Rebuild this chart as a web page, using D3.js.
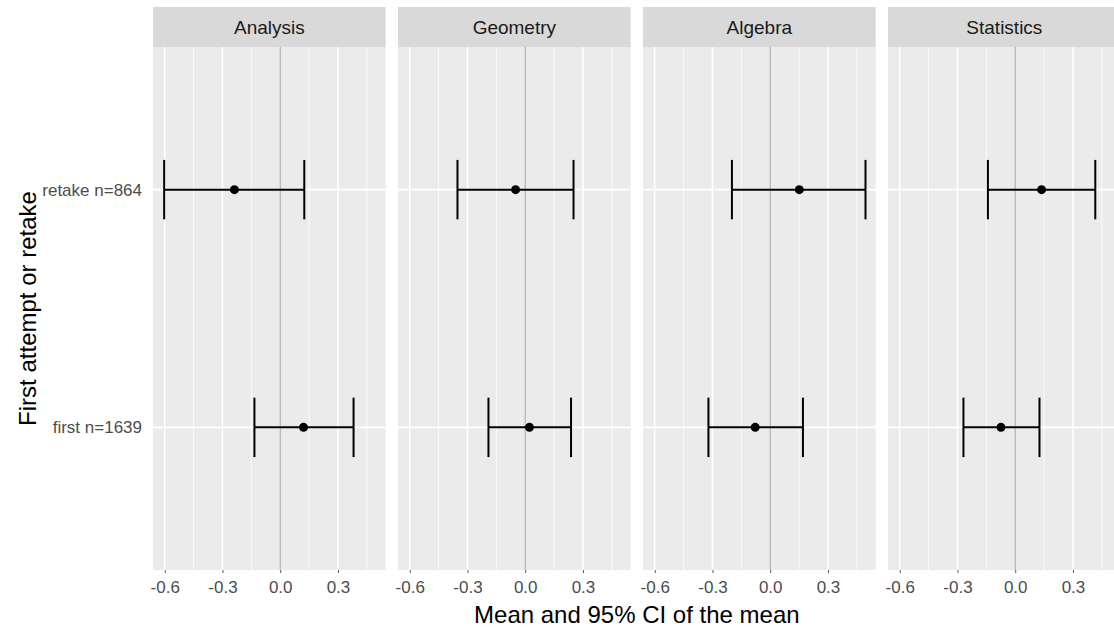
<!DOCTYPE html>
<html>
<head>
<meta charset="utf-8">
<script src="https://cdn.jsdelivr.net/npm/d3@7"></script>
<style>
  body { margin: 0; background: #fff; }
  svg { display: block; font-family: "Liberation Sans", Arial, sans-serif; }
</style>
</head>
<body>
<div id="chart"></div>
<script>
// data
var subjects = ["Analysis", "Geometry", "Algebra", "Statistics"];
var groups = ["retake n=864", "first n=1639"];
var xTicks = [-0.6, -0.3, 0.0, 0.3];

// one array per subject: [retake, first]
var meanVals  = [[-0.238, 0.121], [-0.050, 0.022], [0.151, -0.078], [0.137, -0.074]];
var lowerVals = [[-0.603, -0.134], [-0.352, -0.191], [-0.199, -0.321], [-0.142, -0.269]];
var upperVals = [[0.125, 0.381], [0.251, 0.238], [0.495, 0.170], [0.416, 0.126]];

var rows = [];
subjects.forEach(function(s, i) {
  groups.forEach(function(g, j) {
    rows.push({ subject: s, group: g, mean: meanVals[i][j], lo: lowerVals[i][j], hi: upperVals[i][j] });
  });
});

// layout
var width = 1114, height = 632;
var margin = { top: 47, left: 153, bottom: 62 };
var stripH = 40, panelW = 232.7, gap = 12.3;
var panelH = height - margin.top - margin.bottom;

var svg = d3.select("#chart")
  .append("svg")
  .attr("width", width)
  .attr("height", height);

var x = d3.scaleLinear()
  .domain([-0.661, 0.548])
  .range([0, panelW]);

// discrete axis with ggplot style expansion (0.6 on each side)
var y = d3.scaleLinear()
  .domain([2.6, 0.4])
  .range([0, panelH]);
var yPos = function(g) { return y(groups.length - groups.indexOf(g)); };

var minorTicks = [-0.45, -0.15, 0.15, 0.45];
// plain hyphen for negatives, like R does
var fmt = function(d) { return d3.format(".1f")(d).replace("\u2212", "-"); };

subjects.forEach(function(s, i) {
  var g = svg.append("g")
    .attr("transform", "translate(" + (margin.left + i * (panelW + gap)) + "," + margin.top + ")");

  // strip
  g.append("rect")
    .attr("x", 0).attr("y", -stripH)
    .attr("width", panelW).attr("height", stripH)
    .attr("fill", "#d9d9d9");
  g.append("text")
    .attr("x", panelW / 2).attr("y", -stripH / 2)
    .attr("dy", "0.36em")
    .attr("text-anchor", "middle")
    .attr("font-size", "19px")
    .attr("fill", "#1a1a1a")
    .text(s);

  // panel background
  g.append("rect")
    .attr("width", panelW).attr("height", panelH)
    .attr("fill", "#ebebeb");

  g.selectAll(".minor")
    .data(minorTicks)
    .enter().append("line")
    .attr("x1", function(d) { return x(d); })
    .attr("x2", function(d) { return x(d); })
    .attr("y1", 0).attr("y2", panelH)
    .attr("stroke", "#fff").attr("stroke-width", 0.8);

  g.selectAll(".major")
    .data(xTicks)
    .enter().append("line")
    .attr("x1", function(d) { return x(d); })
    .attr("x2", function(d) { return x(d); })
    .attr("y1", 0).attr("y2", panelH)
    .attr("stroke", "#fff").attr("stroke-width", 1.6);

  g.selectAll(".hgrid")
    .data(groups)
    .enter().append("line")
    .attr("x1", 0).attr("x2", panelW)
    .attr("y1", function(d) { return yPos(d); })
    .attr("y2", function(d) { return yPos(d); })
    .attr("stroke", "#fff").attr("stroke-width", 1.6);

  // zero reference line
  g.append("line")
    .attr("x1", x(0)).attr("x2", x(0))
    .attr("y1", 0).attr("y2", panelH)
    .attr("stroke", "#b0b0b0").attr("stroke-width", 1.3);

  // x axis tick labels
  var ax = g.append("g")
    .attr("transform", "translate(0," + panelH + ")")
    .call(d3.axisBottom(x).tickValues(xTicks).tickFormat(fmt).tickSize(3).tickPadding(8));
  ax.select(".domain").remove();
  ax.selectAll(".tick line").attr("stroke", "#555").attr("stroke-width", 1);
  ax.selectAll("text")
    .attr("font-size", "17px")
    .attr("font-family", "Liberation Sans, Arial, sans-serif")
    .attr("fill", "#4d4d4d");

  // error bars
  var d = rows.filter(function(r) { return r.subject === s; });
  var capH = (y(1) - y(2)) * 0.25 / 2;

  g.selectAll(".bar")
    .data(d)
    .enter().append("line")
    .attr("x1", function(r) { return x(r.lo); })
    .attr("x2", function(r) { return x(r.hi); })
    .attr("y1", function(r) { return yPos(r.group); })
    .attr("y2", function(r) { return yPos(r.group); })
    .attr("stroke", "#000").attr("stroke-width", 2);

  ["lo", "hi"].forEach(function(k) {
    g.selectAll(".cap-" + k)
      .data(d)
      .enter().append("line")
      .attr("x1", function(r) { return x(r[k]); })
      .attr("x2", function(r) { return x(r[k]); })
      .attr("y1", function(r) { return yPos(r.group) - capH; })
      .attr("y2", function(r) { return yPos(r.group) + capH; })
      .attr("stroke", "#000").attr("stroke-width", 2);
  });

  g.selectAll(".pt")
    .data(d)
    .enter().append("circle")
    .attr("cx", function(r) { return x(r.mean); })
    .attr("cy", function(r) { return yPos(r.group); })
    .attr("r", 4.5)
    .attr("fill", "#000");
});

// y tick labels
svg.selectAll(".ylab")
  .data(groups)
  .enter().append("text")
  .attr("x", margin.left - 11)
  .attr("y", function(d) { return margin.top + yPos(d); })
  .attr("dy", "0.36em")
  .attr("text-anchor", "end")
  .attr("font-size", "17px")
  .attr("fill", "#4d4d4d")
  .text(function(d) { return d; });

// axis titles
svg.append("text")
  .attr("x", margin.left + (4 * panelW + 3 * gap) / 2)
  .attr("y", 623)
  .attr("text-anchor", "middle")
  .attr("font-size", "24px")
  .attr("fill", "#000")
  .text("Mean and 95% CI of the mean");

svg.append("text")
  .attr("transform", "translate(36," + (margin.top + panelH / 2) + ")rotate(-90)")
  .attr("text-anchor", "middle")
  .attr("font-size", "24px")
  .attr("fill", "#000")
  .text("First attempt or retake");
</script>
</body>
</html>
